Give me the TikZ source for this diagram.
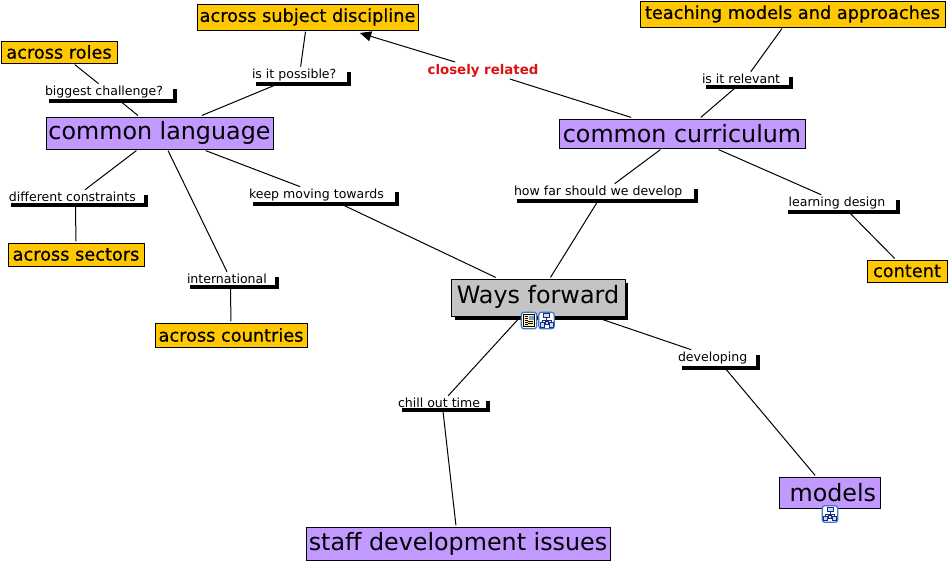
\documentclass[tikz,border=0pt]{standalone}
\usepackage{fontspec}
\setmainfont{DejaVu Sans}
\newfontfamily\leaffont[FakeBold=0.5]{DejaVu Sans}
\usetikzlibrary{calc,arrows.meta}
\definecolor{conc}{HTML}{C299FF}
\definecolor{orng}{HTML}{FFC800}
\definecolor{gry}{HTML}{C4C4C4}
\definecolor{rd}{HTML}{DD1111}
\definecolor{icb}{HTML}{3C78C8}
\definecolor{icn}{HTML}{1A2A80}
\tikzset{
  x=0.75pt,y=-0.75pt,
  boxbase/.style={rectangle,draw=black,line width=0.75pt,inner sep=0pt,text=black,outer sep=1.2pt},
  concept/.style={boxbase,fill=conc,font=\fontsize{17.85}{20}\selectfont},
  leaf/.style={boxbase,fill=orng,font=\leaffont\fontsize{13.3}{15}\selectfont},
  root/.style={boxbase,fill=gry,font=\fontsize{17.9}{20}\selectfont},
  linkbox/.style={rectangle,fill=white,inner sep=0pt,outer sep=1pt,text=black,font=\fontsize{9.4}{10}\selectfont},
  conn/.style={draw=black,line width=0.75pt},
  iconbox/.style={rectangle,rounded corners=2pt,draw=icb,line width=0.9pt,fill=white,minimum width=11.5pt,minimum height=12.5pt,inner sep=0pt},
  glyphbox/.style={draw=icn,fill=icb!25,line width=0.55pt},
}
% name, x1,y1,x2,y2, style, text
\newcommand{\bx}[7]{%
  \pgfmathsetmacro{\cxx}{(#2+#4)/2}\pgfmathsetmacro{\cyy}{(#3+#5)/2}%
  \pgfmathsetmacro{\ww}{(#4-#2)*0.75}\pgfmathsetmacro{\hh}{(#5-#3)*0.75}%
  \node[#6,minimum width=\ww pt,minimum height=\hh pt] (#1) at (\cxx,\cyy) {#7};}
\newcommand{\lk}[6]{%
  \pgfmathsetmacro{\cxx}{(#2+#4)/2}\pgfmathsetmacro{\cyy}{(#3+#5)/2}%
  \pgfmathsetmacro{\ww}{(#4-#2)*0.75}\pgfmathsetmacro{\hh}{(#5-#3)*0.75}%
  \node[linkbox,minimum width=\ww pt,minimum height=\hh pt] (#1) at (\cxx,\cyy) {\makebox[\ww pt][l]{#6}};}
\newcommand{\hierglyph}[1]{%
  \draw[icn,line width=0.55pt] ($(#1)+(0,-3)$) -- ($(#1)+(0,1)$) ($(#1)+(-4.5,2)$) -- ($(#1)+(-4.5,0)$) -- ($(#1)+(4.5,0)$) -- ($(#1)+(4.5,2)$);
  \draw[glyphbox] ($(#1)+(-3,-7)$) rectangle ($(#1)+(3,-3)$);
  \draw[glyphbox] ($(#1)+(-6.5,2)$) rectangle ($(#1)+(-2.5,6.5)$);
  \draw[glyphbox] ($(#1)+(2.5,2)$) rectangle ($(#1)+(6.5,6.5)$);
  \draw[glyphbox] ($(#1)+(-1.5,1)$) rectangle ($(#1)+(1.5,4)$);
}
\begin{document}
\begin{tikzpicture}
\useasboundingbox (0,0) rectangle (950,562);
% shadows
\fill[black] (455,283) rectangle (628,319.5);
\foreach \a/\b/\c/\d in {49/89/177/103, 256/72/351/86, 11/195/148/207, 253/192/399/206, 517/189/698/203, 788/200/900/214, 706/77/793/89, 190/277/279/289, 682/355/760/370, 402/401/490/412}{
  \fill[black] (\a,\b) rectangle (\c,\d);
}
% nodes
\bx{cl}{46}{117}{273}{149}{concept}{common language}
\bx{cc}{559}{119}{805}{148}{concept}{common curriculum}
\bx{wf}{451}{279}{625}{316}{root}{\raisebox{4.5pt}{Ways forward}}
\bx{md}{779}{477}{880}{508}{concept}{\hspace*{5pt}models}
\bx{sd}{306}{527}{610}{560}{concept}{staff development issues}
\bx{asd}{197}{4}{418}{30}{leaf}{across subject discipline}
\bx{ar}{1}{41}{117}{63}{leaf}{across roles}
\bx{tm}{640}{1}{945}{27}{leaf}{teaching models and approaches}
\bx{as}{8}{243}{144}{266}{leaf}{across sectors}
\bx{ac}{155}{323}{307}{347}{leaf}{across countries}
\bx{ct}{867}{260}{947}{282}{leaf}{content}
\lk{l1}{45}{85}{173}{99}{biggest challenge?}
\lk{l2}{252}{68}{347}{82}{is it possible?}
\lk{l3}{7}{191}{144}{203}{\hspace*{1.5pt}different constraints}
\lk{l4}{249}{188}{395}{202}{keep moving towards}
\lk{l5}{513}{185}{694}{199}{\hspace*{0.75pt}how far should we develop}
\lk{l6}{784}{196}{896}{210}{\hspace*{3.5pt}learning design}
\lk{l7}{702}{73}{789}{85}{is it relevant}
\lk{l8}{186}{273}{275}{285}{\hspace*{0.75pt}international}
\lk{l9}{678}{351}{756}{366}{developing}
\lk{l10}{398}{397}{486}{408}{chill out time}
\node[inner sep=0pt,outer sep=1.5pt,text=rd,font=\fontsize{10}{12}\selectfont\bfseries] (cr) at (483,70.5) {closely related};
% connectors
\begin{scope}[conn]
\draw (ar) -- (l1); \draw (l1) -- (cl);
\draw (asd) -- (l2); \draw (l2) -- (cl);
\draw (cl) -- (l3); \draw (l3) -- (as);
\draw (cl) -- (l8); \draw (l8) -- (ac);
\draw (cl) -- (l4); \draw (l4) -- (wf);
\draw (cc) -- (l5); \draw (l5) -- (wf);
\draw (cc) -- (l6); \draw (l6) -- (ct);
\draw (tm) -- (l7); \draw (l7) -- (cc);
\draw (wf) -- (l9); \draw (l9) -- (md);
\draw (wf) -- (l10); \draw (l10) -- (sd);
\draw (cc) -- (cr);
\draw[shorten >=3.5pt,-{Triangle[length=8.5pt,width=7.5pt]}] (cr) -- (asd);
\end{scope}
% icons
\node[iconbox] (i1) at (529,320.5) {};
\node[iconbox] (i2) at (546.5,320.5) {};
\node[iconbox] (i3) at (830,514) {};
\fill[yellow!35] (523.5,314.5) rectangle (534.5,326.5);
\draw[black,line width=0.5pt] (523.5,314.5) rectangle (534.5,326.5);
\fill[icb!70] (529,315.5) rectangle (534,319.5);
\foreach \yy in {316.5,318.5,320.5,322.5,324.5}{\draw[black,line width=0.5pt] (525,\yy) -- (528,\yy);}
\foreach \yy in {321.5,323.5}{\draw[black,line width=0.5pt] (528,\yy) -- (533,\yy);}
\hierglyph{i2}
\hierglyph{i3}
\end{tikzpicture}
\end{document}
